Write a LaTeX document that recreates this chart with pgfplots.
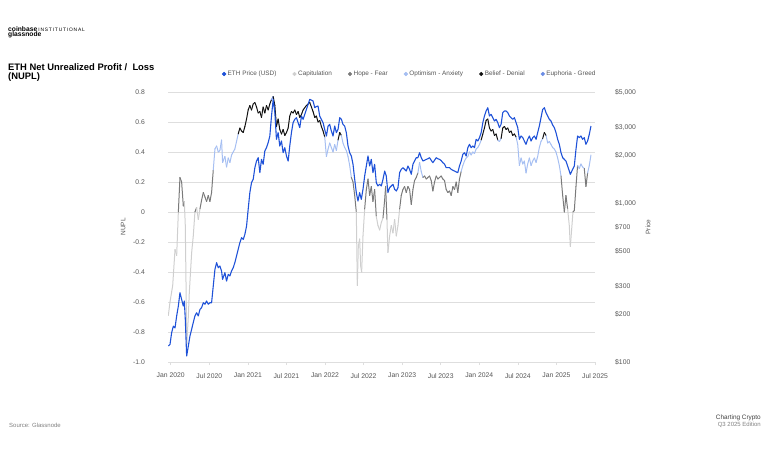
\documentclass[border=0pt]{standalone}
\usepackage{fontspec}
\setmainfont{Liberation Sans}
\usepackage{pgfplots}
\pgfplotsset{compat=1.18}
\usepackage{pgfplotstable}

\definecolor{ethblue}{HTML}{1F52D8}
\definecolor{capc}{HTML}{CFCFCF}
\definecolor{hopec}{HTML}{7A7A7A}
\definecolor{optc}{HTML}{A6BFF2}
\definecolor{belc}{HTML}{111111}
\definecolor{eupc}{HTML}{6A8CE4}
\definecolor{gridc}{HTML}{DEDEDE}
\definecolor{tickc}{HTML}{555555}

\pgfplotsset{colormap={nupl}{color(0cm)=(capc) color(1cm)=(hopec) color(2cm)=(optc) color(3cm)=(belc) color(4cm)=(eupc) color(5cm)=(eupc)}}

\pgfplotstableread{
m v
-0.37 -0.69
-0.11 -0.60
0.31 -0.49
0.67 -0.25
0.93 -0.29
1.19 0.00
1.44 0.23
1.70 0.20
1.96 0.04
2.12 0.07
2.27 -0.09
2.50 -0.88
2.74 -0.70
2.89 -0.54
3.26 -0.27
3.51 -0.16
3.77 0.00
4.03 0.03
4.29 -0.05
4.55 0.02
4.81 0.08
5.07 0.13
5.33 0.10
5.58 0.07
5.84 0.11
6.10 0.07
6.36 0.13
6.62 0.28
6.88 0.42
7.14 0.44
7.40 0.40
7.65 0.41
7.91 0.48
8.07 0.33
8.43 0.37
8.69 0.30
8.95 0.36
9.21 0.33
9.47 0.38
9.72 0.40
9.98 0.42
10.24 0.47
10.50 0.52
10.76 0.56
11.02 0.54
11.28 0.53
11.54 0.57
11.80 0.62
12.05 0.68
12.31 0.71
12.57 0.68
12.83 0.72
13.09 0.73
13.35 0.70
13.61 0.66
13.87 0.67
14.12 0.63
14.38 0.70
14.64 0.66
14.90 0.71
15.16 0.68
15.42 0.72
15.68 0.75
15.94 0.77
16.20 0.71
16.45 0.57
16.71 0.62
16.97 0.55
17.23 0.52
17.49 0.55
17.75 0.51
18.01 0.53
18.27 0.56
18.52 0.64
18.78 0.67
19.04 0.66
19.30 0.68
19.56 0.65
19.82 0.67
20.08 0.63
20.34 0.65
20.59 0.68
21.11 0.71
21.63 0.73
22.14 0.67
22.41 0.63
22.66 0.64
22.92 0.60
23.18 0.61
23.44 0.57
23.70 0.54
23.96 0.50
24.22 0.37
24.48 0.42
24.73 0.46
24.99 0.43
25.25 0.40
25.51 0.45
25.77 0.41
26.03 0.48
26.29 0.53
26.55 0.51
26.80 0.46
27.06 0.43
27.32 0.41
27.58 0.37
27.84 0.31
28.10 0.23
28.36 0.20
28.62 0.11
28.87 0.00
29.03 -0.49
29.18 -0.23
29.39 -0.18
29.55 -0.36
29.70 -0.40
29.91 -0.16
30.17 0.02
30.43 0.15
30.69 0.22
30.95 0.11
31.20 0.17
31.46 0.07
31.72 0.15
31.98 -0.03
32.24 -0.09
32.50 -0.12
32.76 -0.07
33.02 -0.04
33.28 0.08
33.43 0.17
33.64 -0.05
33.79 -0.27
34.05 -0.16
34.31 -0.09
34.57 -0.14
34.83 -0.05
35.09 -0.16
35.35 -0.09
35.61 0.02
35.86 0.11
36.12 0.15
36.38 0.17
36.64 0.13
36.90 0.17
37.16 0.15
37.42 0.05
37.68 0.15
37.93 0.21
38.19 0.23
38.45 0.26
38.71 0.33
38.97 0.27
39.23 0.23
39.49 0.24
39.75 0.22
40.00 0.23
40.26 0.24
40.52 0.21
40.78 0.14
41.04 0.20
41.30 0.24
41.56 0.22
41.81 0.23
42.07 0.24
42.33 0.22
42.59 0.21
42.85 0.15
43.11 0.13
43.37 0.14
43.63 0.11
43.89 0.17
44.15 0.15
44.41 0.20
44.66 0.13
44.92 0.22
45.18 0.27
45.44 0.31
45.70 0.34
45.96 0.36
46.22 0.37
46.48 0.40
46.73 0.38
46.99 0.40
47.25 0.39
47.51 0.42
47.77 0.43
48.03 0.45
48.29 0.48
48.55 0.52
48.80 0.56
49.06 0.61
49.32 0.62
49.58 0.56
49.84 0.54
50.10 0.55
50.36 0.51
50.62 0.52
50.87 0.48
51.13 0.47
51.39 0.49
51.65 0.56
51.91 0.57
52.17 0.55
52.43 0.56
52.69 0.53
52.94 0.54
53.20 0.51
53.46 0.52
53.72 0.50
53.98 0.45
54.24 0.31
54.50 0.36
54.76 0.32
55.01 0.34
55.27 0.26
55.53 0.32
55.79 0.36
56.05 0.31
56.31 0.34
56.57 0.36
56.83 0.33
57.08 0.37
57.34 0.43
57.60 0.47
57.86 0.49
58.12 0.53
58.38 0.51
58.64 0.46
58.90 0.47
59.15 0.45
59.41 0.43
59.67 0.42
59.93 0.40
60.19 0.36
60.45 0.31
60.71 0.24
60.97 0.11
61.23 0.00
61.48 0.11
61.74 0.02
62.00 -0.09
62.16 -0.23
62.36 -0.12
62.57 0.00
62.78 0.01
63.04 0.17
63.29 0.31
63.55 0.29
63.81 0.32
64.07 0.30
64.33 0.29
64.59 0.17
64.85 0.26
65.11 0.31
65.37 0.38
}\nupldata

\pgfplotstableread{
m p
-0.37 126
-0.11 129
0.15 153
0.41 168
0.67 164
0.93 195
1.19 225
1.44 273
1.70 248
1.96 225
2.12 242
2.27 186
2.48 109
2.74 126
3.00 146
3.26 161
3.51 177
3.77 195
4.03 204
4.29 195
4.55 214
4.81 220
5.07 236
5.33 231
5.58 242
5.84 231
6.10 236
6.36 236
6.62 301
6.88 383
7.14 422
7.40 392
7.65 402
7.91 374
8.07 331
8.43 365
8.69 323
8.95 356
9.21 348
9.47 374
9.72 392
9.98 422
10.24 465
10.50 512
10.76 563
11.02 606
11.28 591
11.54 636
11.80 717
12.05 913
12.31 1163
12.57 1344
12.83 1410
13.09 1670
13.35 1839
13.61 1930
13.87 1554
14.12 1884
14.38 1753
14.64 2126
14.90 2231
15.16 2399
15.42 2642
15.68 3530
15.94 4496
16.20 3706
16.45 2518
16.71 2773
16.97 2286
17.23 2458
17.49 2075
17.75 2231
18.01 1978
18.27 1839
18.52 2286
18.78 2773
19.04 3206
19.30 3364
19.56 3446
19.82 3206
20.08 2982
20.34 3530
20.59 3364
20.85 3617
21.11 3888
21.63 4496
22.14 4390
22.41 3983
22.66 4050
22.92 4080
23.18 3530
23.44 3364
23.70 3206
23.96 2900
24.22 2642
24.48 3054
24.73 3129
24.99 2841
25.25 2642
25.51 3054
25.77 2773
26.03 2911
26.29 3446
26.55 3364
26.80 3129
27.06 3054
27.32 2773
27.58 2286
27.84 2075
28.10 1978
28.36 1753
28.62 1410
28.87 1163
29.13 1030
29.39 1163
29.65 1056
29.91 1220
30.17 1480
30.43 1711
30.69 1978
30.95 1711
31.20 1884
31.46 1554
31.72 1753
31.98 1344
32.24 1281
32.50 1312
32.76 1281
33.02 1410
33.28 1591
33.53 1480
33.79 1163
34.05 1250
34.31 1281
34.57 1312
34.83 1220
35.09 1191
35.35 1250
35.61 1554
35.86 1630
36.12 1670
36.38 1630
36.64 1591
36.90 1711
37.16 1630
37.42 1517
37.68 1753
37.93 1839
38.19 1930
38.45 1930
38.71 2075
38.97 1930
39.23 1839
39.49 1860
39.75 1884
40.00 1900
40.26 1930
40.52 1860
40.78 1796
41.04 1860
41.30 1930
41.56 1900
41.81 1884
42.07 1850
42.33 1796
42.59 1760
42.85 1670
43.11 1670
43.37 1670
43.63 1630
43.89 1610
44.15 1591
44.41 1570
44.66 1554
44.92 1711
45.18 1839
45.44 2026
45.70 2075
45.96 1978
46.22 2231
46.48 2342
46.73 2231
46.99 2286
47.25 2231
47.51 2518
47.77 2458
48.03 2579
48.29 2773
48.55 3206
48.80 3530
49.06 3796
49.32 3983
49.58 3530
49.84 3617
50.10 3446
50.36 3284
50.62 3364
50.87 3206
51.13 2982
51.39 3129
51.65 3706
51.91 3796
52.17 3796
52.43 3706
52.69 3530
52.94 3446
53.20 3364
53.46 3446
53.72 3206
53.98 2982
54.24 2518
54.50 2642
54.76 2579
55.01 2458
55.27 2342
55.53 2518
55.79 2642
56.05 2458
56.31 2579
56.57 2642
56.83 2518
57.08 2773
57.34 3054
57.60 3446
57.86 3888
58.12 3983
58.38 3706
58.64 3530
58.90 3364
59.15 3284
59.41 3100
59.67 2982
59.93 2773
60.19 2518
60.45 2342
60.71 2075
60.97 1930
61.23 1884
61.48 1839
61.74 1711
62.00 1591
62.16 1517
62.52 1630
62.78 1711
63.04 2178
63.29 2642
63.55 2579
63.81 2642
64.07 2518
64.33 2579
64.59 2342
64.85 2458
65.11 2707
65.37 3054
}\pricedata

\begin{document}
\begin{tikzpicture}[x=1pt,y=1pt]
\useasboundingbox (0,0) rectangle (770,455);
% header
\node[anchor=base west, inner sep=0pt, font=\fontsize{6.7}{7}\selectfont\bfseries] at (8,423.7) {coinbase\,{\fontsize{4.9}{5}\selectfont\mdseries I\,N\,S\,T\,I\,T\,U\,T\,I\,O\,N\,A\,L}};
\node[anchor=base west, inner sep=0pt, font=\fontsize{6.7}{7}\selectfont\bfseries] at (8,418) {glassnode};
\node[anchor=base west, inner sep=0pt, font=\fontsize{9.4}{10}\selectfont\bfseries] at (8,384.3) {ETH Net Unrealized Profit /\ \ Loss};
\node[anchor=base west, inner sep=0pt, font=\fontsize{9.4}{10}\selectfont\bfseries] at (8,375) {(NUPL)};
% footer
\node[anchor=west, inner sep=0pt, font=\fontsize{6}{7}\selectfont, text=black!50] at (9,30) {Source: Glassnode};
\node[anchor=east, inner sep=0pt, font=\fontsize{6.4}{7}\selectfont, text=black!75] at (761,37) {Charting Crypto};
\node[anchor=east, inner sep=0pt, font=\fontsize{6}{7}\selectfont, text=black!50] at (761,30) {Q3 2025 Edition};

\begin{axis}[
  at={(168pt,93pt)}, anchor=south west,
  scale only axis, width=427pt, height=270pt,
  xmin=-0.42, xmax=66, ymin=-1, ymax=0.8,
  axis y line*=left, axis x line*=bottom,
  y axis line style={draw=none},
  x axis line style={draw=gridc, line width=0.8pt},
  xtick={0,6,12,18,24,30,36,42,48,54,60,66},
  xticklabels={Jan 2020,Jul 2020,Jan 2021,Jul 2021,Jan 2022,Jul 2022,Jan 2023,Jul 2023,Jan 2024,Jul 2024,Jan 2025,Jul 2025},
  ytick={-1,-0.8,-0.6,-0.4,-0.2,0,0.2,0.4,0.6,0.8},
  yticklabels={-1.0,-0.8,-0.6,-0.4,-0.2,0,0.2,0.4,0.6,0.8},
  ymajorgrids, grid style={draw=gridc, line width=0.7pt},
  ytick style={draw=none},
  xtick style={draw=gridc, line width=0.6pt},
  tick align=outside, major tick length=3pt,
  tick label style={font=\fontsize{6.8}{8}\selectfont, text=tickc},
  yticklabel style={anchor=east, inner sep=0pt, xshift=-20pt},
  xticklabel style={anchor=north, inner sep=0pt, yshift=-8pt},
  ylabel={NUPL},
  ylabel style={at={(axis description cs:-0.105,0.5)}, anchor=center, font=\fontsize{6.5}{8}\selectfont, text=tickc},
  point meta min=-0.25, point meta max=1.0,
  legend style={at={(axis description cs:0.5656,1.0667)}, anchor=center, draw=none, fill=none,
    font=\fontsize{6.4}{7}\selectfont, text=tickc, inner sep=0pt, nodes={inner sep=1.5pt},
    /tikz/every even column/.append style={column sep=14.5pt}},
  legend columns=6, legend cell align=left,
]
\addlegendimage{legend image code/.code={\fill[ethblue] (0pt,0pt) circle (1.9pt);}}
\addlegendentry{ETH Price (USD)}
\addlegendimage{legend image code/.code={\fill[capc] (0pt,0pt) circle (1.9pt);}}
\addlegendentry{Capitulation}
\addlegendimage{legend image code/.code={\fill[hopec] (0pt,0pt) circle (1.9pt);}}
\addlegendentry{Hope - Fear}
\addlegendimage{legend image code/.code={\fill[optc] (0pt,0pt) circle (1.9pt);}}
\addlegendentry{Optimism - Anxiety}
\addlegendimage{legend image code/.code={\fill[belc] (0pt,0pt) circle (1.9pt);}}
\addlegendentry{Belief - Denial}
\addlegendimage{legend image code/.code={\fill[eupc] (0pt,0pt) circle (1.9pt);}}
\addlegendentry{Euphoria - Greed}
\addplot[mesh, forget plot, line width=1pt, line cap=round, colormap name=nupl,
  colormap access=piecewise constant, point meta=\thisrow{v}, shader=flat]
  table[x=m,y=v]{\nupldata};
\end{axis}

\begin{axis}[
  at={(168pt,93pt)}, anchor=south west,
  scale only axis, width=427pt, height=270pt,
  xmin=-0.42, xmax=66, ymode=log, ymin=100, ymax=5000,
  axis y line*=right, axis x line=none,
  y axis line style={draw=none}, ytick style={draw=none},
  yminorticks=false,
  ytick={100,200,300,500,700,1000,2000,3000,5000},
  yticklabels={\$100,\$200,\$300,\$500,\$700,{\$1,000},{\$2,000},{\$3,000},{\$5,000}},
  tick label style={font=\fontsize{6.8}{8}\selectfont, text=tickc},
  yticklabel style={anchor=west, inner sep=0pt, xshift=20pt},
  ylabel={Price},
  ylabel style={at={(axis description cs:1.124,0.5)}, anchor=center, font=\fontsize{6.5}{8}\selectfont, text=tickc},
]
\addplot[ethblue, line width=1.1pt, line join=round] table[x=m,y=p]{\pricedata};
\end{axis}
\end{tikzpicture}
\end{document}
